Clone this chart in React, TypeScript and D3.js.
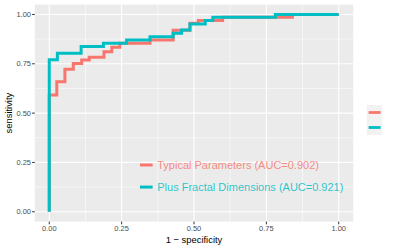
import React from "react";
import * as d3 from "d3";

const W = 400;
const H = 249;

const seriesNames = ["Typical Parameters (AUC=0.902)", "Plus Fractal Dimensions (AUC=0.921)"];
const seriesColors = ["#F8766D", "#00BFC4"];

const typicalFpr = [0, 0, 0.026, 0.054, 0.083, 0.112, 0.138, 0.189, 0.216, 0.244, 0.348, 0.428, 0.486, 0.515, 0.599, 0.84, 1];
const typicalTpr = [0, 0.592, 0.659, 0.722, 0.752, 0.769, 0.783, 0.811, 0.834, 0.854, 0.87, 0.92, 0.955, 0.969, 0.986, 1, 1];

const fractalFpr = [0, 0, 0.028, 0.11, 0.187, 0.267, 0.348, 0.428, 0.457, 0.486, 0.539, 0.565, 0.781, 1];
const fractalTpr = [0, 0.77, 0.803, 0.837, 0.854, 0.87, 0.887, 0.905, 0.921, 0.952, 0.969, 0.986, 1, 1];

const majorTicks = [0, 0.25, 0.5, 0.75, 1];
const minorTicks = [0.125, 0.375, 0.625, 0.875];
const tickLabels = ["0.00", "0.25", "0.50", "0.75", "1.00"];

const xTitle = "1 \u2212 specificity";
const yTitle = "sensitivity";

// annotation legend positions (data coords)
const annoX = 0.373;
const annoY = [0.237, 0.125];

export default function App() {
  const panel = { left: 34.8, right: 353.2, top: 4.6, bottom: 221.6 };
  const x = d3.scaleLinear().domain([-0.05, 1.05]).range([panel.left, panel.right]);
  const y = d3.scaleLinear().domain([-0.05, 1.05]).range([panel.bottom, panel.top]);

  const line = d3
    .line<[number, number]>()
    .x((d) => x(d[0]))
    .y((d) => y(d[1]))
    .curve(d3.curveStepAfter);

  const series = [
    typicalFpr.map((f, i) => [f, typicalTpr[i]] as [number, number]),
    fractalFpr.map((f, i) => [f, fractalTpr[i]] as [number, number]),
  ];

  const font = "'Liberation Sans', Arial, Helvetica, sans-serif";

  return (
    <svg
      width={W}
      height={H}
      style={{ position: "absolute", left: 0, top: 0, background: "#fff" }}
      fontFamily={font}
    >
      <rect x={panel.left} y={panel.top} width={panel.right - panel.left} height={panel.bottom - panel.top} fill="#EBEBEB" />
      {minorTicks.map((t) => (
        <g key={"mn" + t}>
          <line x1={x(t)} x2={x(t)} y1={panel.top} y2={panel.bottom} stroke="#fff" strokeWidth={0.55} />
          <line y1={y(t)} y2={y(t)} x1={panel.left} x2={panel.right} stroke="#fff" strokeWidth={0.55} />
        </g>
      ))}
      {majorTicks.map((t) => (
        <g key={"mj" + t}>
          <line x1={x(t)} x2={x(t)} y1={panel.top} y2={panel.bottom} stroke="#fff" strokeWidth={1.1} />
          <line y1={y(t)} y2={y(t)} x1={panel.left} x2={panel.right} stroke="#fff" strokeWidth={1.1} />
        </g>
      ))}
      {series.map((s, i) => (
        <path key={"s" + i} d={line(s) || ""} fill="none" stroke={seriesColors[i]} strokeWidth={3} />
      ))}
      {seriesNames.map((name, i) => (
        <g key={"a" + i}>
          <line
            x1={x(annoX) - 17.3}
            x2={x(annoX) - 4.6}
            y1={y(annoY[i])}
            y2={y(annoY[i])}
            stroke={seriesColors[i]}
            strokeWidth={3}
          />
          <text x={x(annoX)} y={y(annoY[i])} dy="0.36em" fontSize={11} fill={seriesColors[i]} fillOpacity={0.85}>
            {name}
          </text>
        </g>
      ))}
      {majorTicks.map((t, i) => (
        <g key={"yt" + t}>
          <line x1={panel.left - 2.7} x2={panel.left} y1={y(t)} y2={y(t)} stroke="#333" strokeWidth={1} />
          <text x={panel.left - 3.8} y={y(t)} dy="0.35em" textAnchor="end" fontSize={7.5} fill="#4D4D4D">
            {tickLabels[i]}
          </text>
        </g>
      ))}
      {majorTicks.map((t, i) => (
        <g key={"xt" + t}>
          <line x1={x(t)} x2={x(t)} y1={panel.bottom} y2={panel.bottom + 2.7} stroke="#333" strokeWidth={1} />
          <text x={x(t)} y={panel.bottom + 9.6} textAnchor="middle" fontSize={7.5} fill="#4D4D4D">
            {tickLabels[i]}
          </text>
        </g>
      ))}
      <text x={(panel.left + panel.right) / 2} y={242.8} textAnchor="middle" fontSize={9.4} fill="#000">
        {xTitle}
      </text>
      <text
        transform={`translate(${12.2},${(panel.top + panel.bottom) / 2}) rotate(-90)`}
        textAnchor="middle"
        fontSize={9.4}
        fill="#000"
      >
        {yTitle}
      </text>
      {seriesColors.map((c, i) => (
        <g key={"lk" + i}>
          <rect x={366.8} y={105 + i * 15} width={15.2} height={15} fill="#F2F2F2" />
          <line x1={368.6} x2={380.6} y1={112.5 + i * 15} y2={112.5 + i * 15} stroke={c} strokeWidth={2.8} />
        </g>
      ))}
    </svg>
  );
}
